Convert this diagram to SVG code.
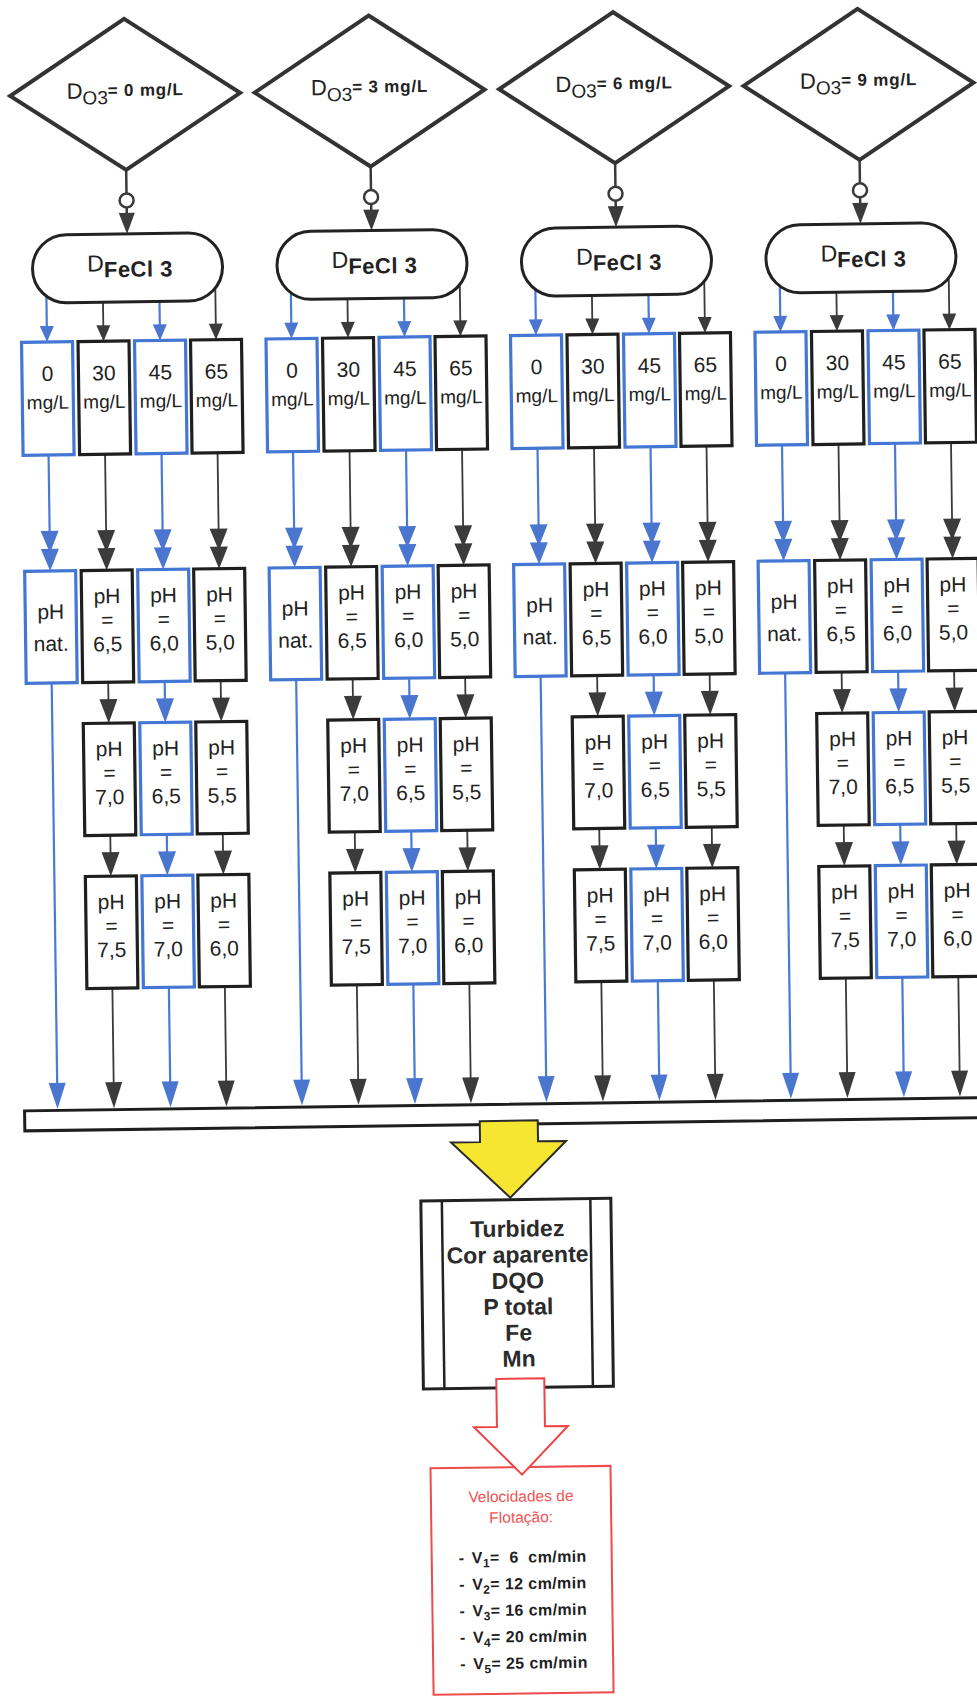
<svg xmlns="http://www.w3.org/2000/svg" width="977" height="1697" viewBox="0 0 977 1697">
<style>
text{font-family:"Liberation Sans",Arial,Helvetica,sans-serif;fill:#222}
.t{text-anchor:middle}
.n{font-size:21px}
.u{font-size:19px}
.p{font-size:21px}
.dia{fill:#fff;stroke:#333;stroke-width:4;stroke-linejoin:miter}
.sta{fill:#fff;stroke:#222;stroke-width:3}
.bk{fill:#fff;stroke:#1f1f1f;stroke-width:3.2}
.bl{fill:#fff;stroke:#4377d3;stroke-width:3.2}
.cb{stroke:#4a7ad4;stroke-width:2.2;fill:none}
.ck{stroke:#3a3a3a;stroke-width:1.8;fill:none}
.co{stroke:#3a3a3a;stroke-width:2.5;fill:none}
.ring{fill:#fff;stroke:#3a3a3a;stroke-width:2.5}
.dt{font-size:22px}
.ds{font-size:19px}
.dv{font-size:17px;font-weight:bold;letter-spacing:0.8px}
.ft{font-size:23px}
.fb{font-size:22px;font-weight:bold;letter-spacing:0.5px}
.res{font-size:23px;font-weight:bold;fill:#2b2b2b}
.red{font-size:15.5px;fill:#ef5353}
.vel{font-size:16px;font-weight:bold;fill:#1f1f1f;letter-spacing:0.4px}
.sub{font-size:12px}
</style>
<defs>
<marker id="s-b" markerUnits="userSpaceOnUse" orient="auto" overflow="visible" markerWidth="20" markerHeight="20"><path d="M-8,-7 L8,0 L-8,7 Z" fill="#4a76d0"/></marker>
<marker id="s-k" markerUnits="userSpaceOnUse" orient="auto" overflow="visible" markerWidth="20" markerHeight="20"><path d="M-8,-7 L8,0 L-8,7 Z" fill="#3b3b3b"/></marker>
<marker id="d-b" markerUnits="userSpaceOnUse" orient="auto" overflow="visible" markerWidth="20" markerHeight="20"><path d="M-32,-9 L-10,0 L-32,9 Z M-14,-9 L8,0 L-14,9 Z" fill="#4a76d0"/></marker>
<marker id="d-k" markerUnits="userSpaceOnUse" orient="auto" overflow="visible" markerWidth="20" markerHeight="20"><path d="M-32,-9 L-10,0 L-32,9 Z M-14,-9 L8,0 L-14,9 Z" fill="#3b3b3b"/></marker>
<marker id="m-b" markerUnits="userSpaceOnUse" orient="auto" overflow="visible" markerWidth="20" markerHeight="20"><path d="M-16,-9 L8,0 L-16,9 Z" fill="#4a76d0"/></marker>
<marker id="m-k" markerUnits="userSpaceOnUse" orient="auto" overflow="visible" markerWidth="20" markerHeight="20"><path d="M-16,-9 L8,0 L-16,9 Z" fill="#3b3b3b"/></marker>
<marker id="l-b" markerUnits="userSpaceOnUse" orient="auto" overflow="visible" markerWidth="20" markerHeight="20"><path d="M-18,-8.5 L8,0 L-18,8.5 Z" fill="#4a76d0"/></marker>
<marker id="l-k" markerUnits="userSpaceOnUse" orient="auto" overflow="visible" markerWidth="20" markerHeight="20"><path d="M-18,-8.5 L8,0 L-18,8.5 Z" fill="#3b3b3b"/></marker>
<marker id="o-k" markerUnits="userSpaceOnUse" orient="auto" overflow="visible" markerWidth="20" markerHeight="20"><path d="M-13,-8 L8,0 L-13,8 Z" fill="#3b3b3b"/></marker>
</defs>
<rect x="0" y="0" width="977" height="1697" fill="#fff"/>
<g transform="rotate(-0.785 488 848)">
<g id="connectors">
<!-- group 0 -->
<line class="co" x1="135.5" y1="165" x2="135.5" y2="188.5"/>
<circle class="ring" cx="135.5" cy="195.5" r="7"/>
<line class="co" x1="135.5" y1="202.5" x2="135.5" y2="221" marker-end="url(#o-k)"/>
<line class="cb" x1="54" y1="280" x2="54" y2="328" marker-end="url(#s-b)"/>
<line class="ck" x1="110.5" y1="280" x2="110.5" y2="328" marker-end="url(#s-k)"/>
<line class="cb" x1="167" y1="280" x2="167" y2="328" marker-end="url(#s-b)"/>
<line class="ck" x1="223" y1="280" x2="223" y2="328" marker-end="url(#s-k)"/>
<line class="cb" x1="54" y1="449" x2="54" y2="557" marker-end="url(#d-b)"/>
<line class="ck" x1="110.5" y1="449" x2="110.5" y2="557" marker-end="url(#d-k)"/>
<line class="cb" x1="167" y1="449" x2="167" y2="557" marker-end="url(#d-b)"/>
<line class="ck" x1="223" y1="449" x2="223" y2="557" marker-end="url(#d-k)"/>
<line class="ck" x1="110.5" y1="677" x2="110.5" y2="710" marker-end="url(#m-k)"/>
<line class="cb" x1="167" y1="677" x2="167" y2="710" marker-end="url(#m-b)"/>
<line class="ck" x1="223" y1="677" x2="223" y2="710" marker-end="url(#m-k)"/>
<line class="ck" x1="110.5" y1="830" x2="110.5" y2="863" marker-end="url(#m-k)"/>
<line class="cb" x1="167" y1="830" x2="167" y2="863" marker-end="url(#m-b)"/>
<line class="ck" x1="223" y1="830" x2="223" y2="863" marker-end="url(#m-k)"/>
<line class="cb" x1="54" y1="677" x2="54" y2="1095" marker-end="url(#l-b)"/>
<line class="ck" x1="110.5" y1="983" x2="110.5" y2="1095" marker-end="url(#l-k)"/>
<line class="cb" x1="167" y1="983" x2="167" y2="1095" marker-end="url(#l-b)"/>
<line class="ck" x1="223" y1="983" x2="223" y2="1095" marker-end="url(#l-k)"/>
<!-- group 1 -->
<line class="co" x1="380" y1="165" x2="380" y2="188.5"/>
<circle class="ring" cx="380" cy="195.5" r="7"/>
<line class="co" x1="380" y1="202.5" x2="380" y2="221" marker-end="url(#o-k)"/>
<line class="cb" x1="298.5" y1="280" x2="298.5" y2="328" marker-end="url(#s-b)"/>
<line class="ck" x1="355" y1="280" x2="355" y2="328" marker-end="url(#s-k)"/>
<line class="cb" x1="411.5" y1="280" x2="411.5" y2="328" marker-end="url(#s-b)"/>
<line class="ck" x1="467.5" y1="280" x2="467.5" y2="328" marker-end="url(#s-k)"/>
<line class="cb" x1="298.5" y1="449" x2="298.5" y2="557" marker-end="url(#d-b)"/>
<line class="ck" x1="355" y1="449" x2="355" y2="557" marker-end="url(#d-k)"/>
<line class="cb" x1="411.5" y1="449" x2="411.5" y2="557" marker-end="url(#d-b)"/>
<line class="ck" x1="467.5" y1="449" x2="467.5" y2="557" marker-end="url(#d-k)"/>
<line class="ck" x1="355" y1="677" x2="355" y2="710" marker-end="url(#m-k)"/>
<line class="cb" x1="411.5" y1="677" x2="411.5" y2="710" marker-end="url(#m-b)"/>
<line class="ck" x1="467.5" y1="677" x2="467.5" y2="710" marker-end="url(#m-k)"/>
<line class="ck" x1="355" y1="830" x2="355" y2="863" marker-end="url(#m-k)"/>
<line class="cb" x1="411.5" y1="830" x2="411.5" y2="863" marker-end="url(#m-b)"/>
<line class="ck" x1="467.5" y1="830" x2="467.5" y2="863" marker-end="url(#m-k)"/>
<line class="cb" x1="298.5" y1="677" x2="298.5" y2="1095" marker-end="url(#l-b)"/>
<line class="ck" x1="355" y1="983" x2="355" y2="1095" marker-end="url(#l-k)"/>
<line class="cb" x1="411.5" y1="983" x2="411.5" y2="1095" marker-end="url(#l-b)"/>
<line class="ck" x1="467.5" y1="983" x2="467.5" y2="1095" marker-end="url(#l-k)"/>
<!-- group 2 -->
<line class="co" x1="624.5" y1="165" x2="624.5" y2="188.5"/>
<circle class="ring" cx="624.5" cy="195.5" r="7"/>
<line class="co" x1="624.5" y1="202.5" x2="624.5" y2="221" marker-end="url(#o-k)"/>
<line class="cb" x1="543" y1="280" x2="543" y2="328" marker-end="url(#s-b)"/>
<line class="ck" x1="599.5" y1="280" x2="599.5" y2="328" marker-end="url(#s-k)"/>
<line class="cb" x1="656" y1="280" x2="656" y2="328" marker-end="url(#s-b)"/>
<line class="ck" x1="712" y1="280" x2="712" y2="328" marker-end="url(#s-k)"/>
<line class="cb" x1="543" y1="449" x2="543" y2="557" marker-end="url(#d-b)"/>
<line class="ck" x1="599.5" y1="449" x2="599.5" y2="557" marker-end="url(#d-k)"/>
<line class="cb" x1="656" y1="449" x2="656" y2="557" marker-end="url(#d-b)"/>
<line class="ck" x1="712" y1="449" x2="712" y2="557" marker-end="url(#d-k)"/>
<line class="ck" x1="599.5" y1="677" x2="599.5" y2="710" marker-end="url(#m-k)"/>
<line class="cb" x1="656" y1="677" x2="656" y2="710" marker-end="url(#m-b)"/>
<line class="ck" x1="712" y1="677" x2="712" y2="710" marker-end="url(#m-k)"/>
<line class="ck" x1="599.5" y1="830" x2="599.5" y2="863" marker-end="url(#m-k)"/>
<line class="cb" x1="656" y1="830" x2="656" y2="863" marker-end="url(#m-b)"/>
<line class="ck" x1="712" y1="830" x2="712" y2="863" marker-end="url(#m-k)"/>
<line class="cb" x1="543" y1="677" x2="543" y2="1095" marker-end="url(#l-b)"/>
<line class="ck" x1="599.5" y1="983" x2="599.5" y2="1095" marker-end="url(#l-k)"/>
<line class="cb" x1="656" y1="983" x2="656" y2="1095" marker-end="url(#l-b)"/>
<line class="ck" x1="712" y1="983" x2="712" y2="1095" marker-end="url(#l-k)"/>
<!-- group 3 -->
<line class="co" x1="869" y1="165" x2="869" y2="188.5"/>
<circle class="ring" cx="869" cy="195.5" r="7"/>
<line class="co" x1="869" y1="202.5" x2="869" y2="221" marker-end="url(#o-k)"/>
<line class="cb" x1="787.5" y1="280" x2="787.5" y2="328" marker-end="url(#s-b)"/>
<line class="ck" x1="844" y1="280" x2="844" y2="328" marker-end="url(#s-k)"/>
<line class="cb" x1="900.5" y1="280" x2="900.5" y2="328" marker-end="url(#s-b)"/>
<line class="ck" x1="956.5" y1="280" x2="956.5" y2="328" marker-end="url(#s-k)"/>
<line class="cb" x1="787.5" y1="449" x2="787.5" y2="557" marker-end="url(#d-b)"/>
<line class="ck" x1="844" y1="449" x2="844" y2="557" marker-end="url(#d-k)"/>
<line class="cb" x1="900.5" y1="449" x2="900.5" y2="557" marker-end="url(#d-b)"/>
<line class="ck" x1="956.5" y1="449" x2="956.5" y2="557" marker-end="url(#d-k)"/>
<line class="ck" x1="844" y1="677" x2="844" y2="710" marker-end="url(#m-k)"/>
<line class="cb" x1="900.5" y1="677" x2="900.5" y2="710" marker-end="url(#m-b)"/>
<line class="ck" x1="956.5" y1="677" x2="956.5" y2="710" marker-end="url(#m-k)"/>
<line class="ck" x1="844" y1="830" x2="844" y2="863" marker-end="url(#m-k)"/>
<line class="cb" x1="900.5" y1="830" x2="900.5" y2="863" marker-end="url(#m-b)"/>
<line class="ck" x1="956.5" y1="830" x2="956.5" y2="863" marker-end="url(#m-k)"/>
<line class="cb" x1="787.5" y1="677" x2="787.5" y2="1095" marker-end="url(#l-b)"/>
<line class="ck" x1="844" y1="983" x2="844" y2="1095" marker-end="url(#l-k)"/>
<line class="cb" x1="900.5" y1="983" x2="900.5" y2="1095" marker-end="url(#l-b)"/>
<line class="ck" x1="956.5" y1="983" x2="956.5" y2="1095" marker-end="url(#l-k)"/>
</g>

<!-- ozone dose diamonds -->
<g id="o3-0"><polygon class="dia" points="135.5,14 250.5,89.5 135.5,165 20.5,89.5"/><text class="t" x="135.5" y="93"><tspan class="dt">D</tspan><tspan class="ds" dy="6">O3</tspan><tspan class="dv" dy="-8">= 0 mg/L</tspan></text></g>
<g id="o3-1"><polygon class="dia" points="380,14 495,89.5 380,165 265,89.5"/><text class="t" x="380" y="93"><tspan class="dt">D</tspan><tspan class="ds" dy="6">O3</tspan><tspan class="dv" dy="-8">= 3 mg/L</tspan></text></g>
<g id="o3-2"><polygon class="dia" points="624.5,14 739.5,89.5 624.5,165 509.5,89.5"/><text class="t" x="624.5" y="93"><tspan class="dt">D</tspan><tspan class="ds" dy="6">O3</tspan><tspan class="dv" dy="-8">= 6 mg/L</tspan></text></g>
<g id="o3-3"><polygon class="dia" points="869,14 984,89.5 869,165 754,89.5"/><text class="t" x="869" y="93"><tspan class="dt">D</tspan><tspan class="ds" dy="6">O3</tspan><tspan class="dv" dy="-8">= 9 mg/L</tspan></text></g>

<!-- FeCl3 dose terminators -->
<g id="fe-0"><rect class="sta" x="40.5" y="229" width="190" height="68" rx="34"/><text class="t" x="138" y="266"><tspan class="ft">D</tspan><tspan class="fb" dy="6">FeCl 3</tspan></text></g>
<g id="fe-1"><rect class="sta" x="285" y="229" width="190" height="68" rx="34"/><text class="t" x="382.5" y="266"><tspan class="ft">D</tspan><tspan class="fb" dy="6">FeCl 3</tspan></text></g>
<g id="fe-2"><rect class="sta" x="529.5" y="229" width="190" height="68" rx="34"/><text class="t" x="627" y="266"><tspan class="ft">D</tspan><tspan class="fb" dy="6">FeCl 3</tspan></text></g>
<g id="fe-3"><rect class="sta" x="774" y="229" width="190" height="68" rx="34"/><text class="t" x="871.5" y="266"><tspan class="ft">D</tspan><tspan class="fb" dy="6">FeCl 3</tspan></text></g>

<!-- group 0 boxes -->
<g id="dose-0-0"><rect class="bl" x="28.5" y="336" width="51" height="113"/><text class="t n" x="54" y="375">0</text><text class="t u" x="54" y="403">mg/L</text></g>
<g id="dose-0-1"><rect class="bk" x="85" y="336" width="51" height="113"/><text class="t n" x="110.5" y="375">30</text><text class="t u" x="110.5" y="403">mg/L</text></g>
<g id="dose-0-2"><rect class="bl" x="141.5" y="336" width="51" height="113"/><text class="t n" x="167" y="375">45</text><text class="t u" x="167" y="403">mg/L</text></g>
<g id="dose-0-3"><rect class="bk" x="197.5" y="336" width="51" height="113"/><text class="t n" x="223" y="375">65</text><text class="t u" x="223" y="403">mg/L</text></g>
<g id="ph-0-0"><rect class="bl" x="28.5" y="565" width="51" height="112"/><text class="t p" x="54" y="613">pH</text><text class="t p" x="54" y="645">nat.</text></g>
<g id="ph-0-1a"><rect class="bk" x="85" y="565" width="51" height="112"/><text class="t p" x="110.5" y="598">pH</text><text class="t p" x="110.5" y="622">=</text><text class="t p" x="110.5" y="646">6,5</text></g>
<g id="ph-0-2a"><rect class="bl" x="141.5" y="565" width="51" height="112"/><text class="t p" x="167" y="598">pH</text><text class="t p" x="167" y="622">=</text><text class="t p" x="167" y="646">6,0</text></g>
<g id="ph-0-3a"><rect class="bk" x="197.5" y="565" width="51" height="112"/><text class="t p" x="223" y="598">pH</text><text class="t p" x="223" y="622">=</text><text class="t p" x="223" y="646">5,0</text></g>
<g id="ph-0-1b"><rect class="bk" x="85" y="718" width="51" height="112"/><text class="t p" x="110.5" y="751">pH</text><text class="t p" x="110.5" y="775">=</text><text class="t p" x="110.5" y="799">7,0</text></g>
<g id="ph-0-2b"><rect class="bl" x="141.5" y="718" width="51" height="112"/><text class="t p" x="167" y="751">pH</text><text class="t p" x="167" y="775">=</text><text class="t p" x="167" y="799">6,5</text></g>
<g id="ph-0-3b"><rect class="bk" x="197.5" y="718" width="51" height="112"/><text class="t p" x="223" y="751">pH</text><text class="t p" x="223" y="775">=</text><text class="t p" x="223" y="799">5,5</text></g>
<g id="ph-0-1c"><rect class="bk" x="85" y="871" width="51" height="112"/><text class="t p" x="110.5" y="904">pH</text><text class="t p" x="110.5" y="928">=</text><text class="t p" x="110.5" y="952">7,5</text></g>
<g id="ph-0-2c"><rect class="bl" x="141.5" y="871" width="51" height="112"/><text class="t p" x="167" y="904">pH</text><text class="t p" x="167" y="928">=</text><text class="t p" x="167" y="952">7,0</text></g>
<g id="ph-0-3c"><rect class="bk" x="197.5" y="871" width="51" height="112"/><text class="t p" x="223" y="904">pH</text><text class="t p" x="223" y="928">=</text><text class="t p" x="223" y="952">6,0</text></g>

<!-- group 1 boxes -->
<g id="dose-1-0"><rect class="bl" x="273" y="336" width="51" height="113"/><text class="t n" x="298.5" y="375">0</text><text class="t u" x="298.5" y="403">mg/L</text></g>
<g id="dose-1-1"><rect class="bk" x="329.5" y="336" width="51" height="113"/><text class="t n" x="355" y="375">30</text><text class="t u" x="355" y="403">mg/L</text></g>
<g id="dose-1-2"><rect class="bl" x="386" y="336" width="51" height="113"/><text class="t n" x="411.5" y="375">45</text><text class="t u" x="411.5" y="403">mg/L</text></g>
<g id="dose-1-3"><rect class="bk" x="442" y="336" width="51" height="113"/><text class="t n" x="467.5" y="375">65</text><text class="t u" x="467.5" y="403">mg/L</text></g>
<g id="ph-1-0"><rect class="bl" x="273" y="565" width="51" height="112"/><text class="t p" x="298.5" y="613">pH</text><text class="t p" x="298.5" y="645">nat.</text></g>
<g id="ph-1-1a"><rect class="bk" x="329.5" y="565" width="51" height="112"/><text class="t p" x="355" y="598">pH</text><text class="t p" x="355" y="622">=</text><text class="t p" x="355" y="646">6,5</text></g>
<g id="ph-1-2a"><rect class="bl" x="386" y="565" width="51" height="112"/><text class="t p" x="411.5" y="598">pH</text><text class="t p" x="411.5" y="622">=</text><text class="t p" x="411.5" y="646">6,0</text></g>
<g id="ph-1-3a"><rect class="bk" x="442" y="565" width="51" height="112"/><text class="t p" x="467.5" y="598">pH</text><text class="t p" x="467.5" y="622">=</text><text class="t p" x="467.5" y="646">5,0</text></g>
<g id="ph-1-1b"><rect class="bk" x="329.5" y="718" width="51" height="112"/><text class="t p" x="355" y="751">pH</text><text class="t p" x="355" y="775">=</text><text class="t p" x="355" y="799">7,0</text></g>
<g id="ph-1-2b"><rect class="bl" x="386" y="718" width="51" height="112"/><text class="t p" x="411.5" y="751">pH</text><text class="t p" x="411.5" y="775">=</text><text class="t p" x="411.5" y="799">6,5</text></g>
<g id="ph-1-3b"><rect class="bk" x="442" y="718" width="51" height="112"/><text class="t p" x="467.5" y="751">pH</text><text class="t p" x="467.5" y="775">=</text><text class="t p" x="467.5" y="799">5,5</text></g>
<g id="ph-1-1c"><rect class="bk" x="329.5" y="871" width="51" height="112"/><text class="t p" x="355" y="904">pH</text><text class="t p" x="355" y="928">=</text><text class="t p" x="355" y="952">7,5</text></g>
<g id="ph-1-2c"><rect class="bl" x="386" y="871" width="51" height="112"/><text class="t p" x="411.5" y="904">pH</text><text class="t p" x="411.5" y="928">=</text><text class="t p" x="411.5" y="952">7,0</text></g>
<g id="ph-1-3c"><rect class="bk" x="442" y="871" width="51" height="112"/><text class="t p" x="467.5" y="904">pH</text><text class="t p" x="467.5" y="928">=</text><text class="t p" x="467.5" y="952">6,0</text></g>

<!-- group 2 boxes -->
<g id="dose-2-0"><rect class="bl" x="517.5" y="336" width="51" height="113"/><text class="t n" x="543" y="375">0</text><text class="t u" x="543" y="403">mg/L</text></g>
<g id="dose-2-1"><rect class="bk" x="574" y="336" width="51" height="113"/><text class="t n" x="599.5" y="375">30</text><text class="t u" x="599.5" y="403">mg/L</text></g>
<g id="dose-2-2"><rect class="bl" x="630.5" y="336" width="51" height="113"/><text class="t n" x="656" y="375">45</text><text class="t u" x="656" y="403">mg/L</text></g>
<g id="dose-2-3"><rect class="bk" x="686.5" y="336" width="51" height="113"/><text class="t n" x="712" y="375">65</text><text class="t u" x="712" y="403">mg/L</text></g>
<g id="ph-2-0"><rect class="bl" x="517.5" y="565" width="51" height="112"/><text class="t p" x="543" y="613">pH</text><text class="t p" x="543" y="645">nat.</text></g>
<g id="ph-2-1a"><rect class="bk" x="574" y="565" width="51" height="112"/><text class="t p" x="599.5" y="598">pH</text><text class="t p" x="599.5" y="622">=</text><text class="t p" x="599.5" y="646">6,5</text></g>
<g id="ph-2-2a"><rect class="bl" x="630.5" y="565" width="51" height="112"/><text class="t p" x="656" y="598">pH</text><text class="t p" x="656" y="622">=</text><text class="t p" x="656" y="646">6,0</text></g>
<g id="ph-2-3a"><rect class="bk" x="686.5" y="565" width="51" height="112"/><text class="t p" x="712" y="598">pH</text><text class="t p" x="712" y="622">=</text><text class="t p" x="712" y="646">5,0</text></g>
<g id="ph-2-1b"><rect class="bk" x="574" y="718" width="51" height="112"/><text class="t p" x="599.5" y="751">pH</text><text class="t p" x="599.5" y="775">=</text><text class="t p" x="599.5" y="799">7,0</text></g>
<g id="ph-2-2b"><rect class="bl" x="630.5" y="718" width="51" height="112"/><text class="t p" x="656" y="751">pH</text><text class="t p" x="656" y="775">=</text><text class="t p" x="656" y="799">6,5</text></g>
<g id="ph-2-3b"><rect class="bk" x="686.5" y="718" width="51" height="112"/><text class="t p" x="712" y="751">pH</text><text class="t p" x="712" y="775">=</text><text class="t p" x="712" y="799">5,5</text></g>
<g id="ph-2-1c"><rect class="bk" x="574" y="871" width="51" height="112"/><text class="t p" x="599.5" y="904">pH</text><text class="t p" x="599.5" y="928">=</text><text class="t p" x="599.5" y="952">7,5</text></g>
<g id="ph-2-2c"><rect class="bl" x="630.5" y="871" width="51" height="112"/><text class="t p" x="656" y="904">pH</text><text class="t p" x="656" y="928">=</text><text class="t p" x="656" y="952">7,0</text></g>
<g id="ph-2-3c"><rect class="bk" x="686.5" y="871" width="51" height="112"/><text class="t p" x="712" y="904">pH</text><text class="t p" x="712" y="928">=</text><text class="t p" x="712" y="952">6,0</text></g>

<!-- group 3 boxes -->
<g id="dose-3-0"><rect class="bl" x="762" y="336" width="51" height="113"/><text class="t n" x="787.5" y="375">0</text><text class="t u" x="787.5" y="403">mg/L</text></g>
<g id="dose-3-1"><rect class="bk" x="818.5" y="336" width="51" height="113"/><text class="t n" x="844" y="375">30</text><text class="t u" x="844" y="403">mg/L</text></g>
<g id="dose-3-2"><rect class="bl" x="875" y="336" width="51" height="113"/><text class="t n" x="900.5" y="375">45</text><text class="t u" x="900.5" y="403">mg/L</text></g>
<g id="dose-3-3"><rect class="bk" x="931" y="336" width="51" height="113"/><text class="t n" x="956.5" y="375">65</text><text class="t u" x="956.5" y="403">mg/L</text></g>
<g id="ph-3-0"><rect class="bl" x="762" y="565" width="51" height="112"/><text class="t p" x="787.5" y="613">pH</text><text class="t p" x="787.5" y="645">nat.</text></g>
<g id="ph-3-1a"><rect class="bk" x="818.5" y="565" width="51" height="112"/><text class="t p" x="844" y="598">pH</text><text class="t p" x="844" y="622">=</text><text class="t p" x="844" y="646">6,5</text></g>
<g id="ph-3-2a"><rect class="bl" x="875" y="565" width="51" height="112"/><text class="t p" x="900.5" y="598">pH</text><text class="t p" x="900.5" y="622">=</text><text class="t p" x="900.5" y="646">6,0</text></g>
<g id="ph-3-3a"><rect class="bk" x="931" y="565" width="51" height="112"/><text class="t p" x="956.5" y="598">pH</text><text class="t p" x="956.5" y="622">=</text><text class="t p" x="956.5" y="646">5,0</text></g>
<g id="ph-3-1b"><rect class="bk" x="818.5" y="718" width="51" height="112"/><text class="t p" x="844" y="751">pH</text><text class="t p" x="844" y="775">=</text><text class="t p" x="844" y="799">7,0</text></g>
<g id="ph-3-2b"><rect class="bl" x="875" y="718" width="51" height="112"/><text class="t p" x="900.5" y="751">pH</text><text class="t p" x="900.5" y="775">=</text><text class="t p" x="900.5" y="799">6,5</text></g>
<g id="ph-3-3b"><rect class="bk" x="931" y="718" width="51" height="112"/><text class="t p" x="956.5" y="751">pH</text><text class="t p" x="956.5" y="775">=</text><text class="t p" x="956.5" y="799">5,5</text></g>
<g id="ph-3-1c"><rect class="bk" x="818.5" y="871" width="51" height="112"/><text class="t p" x="844" y="904">pH</text><text class="t p" x="844" y="928">=</text><text class="t p" x="844" y="952">7,5</text></g>
<g id="ph-3-2c"><rect class="bl" x="875" y="871" width="51" height="112"/><text class="t p" x="900.5" y="904">pH</text><text class="t p" x="900.5" y="928">=</text><text class="t p" x="900.5" y="952">7,0</text></g>
<g id="ph-3-3c"><rect class="bk" x="931" y="871" width="51" height="112"/><text class="t p" x="956.5" y="904">pH</text><text class="t p" x="956.5" y="928">=</text><text class="t p" x="956.5" y="952">6,0</text></g>

<!-- collector bar -->
<g id="collector"><rect x="21" y="1104.5" width="990" height="20" fill="#fff" stroke="#1e1e1e" stroke-width="3"/></g>

<!-- analyses box -->
<g id="analyses">
<rect x="416" y="1200" width="190" height="188" fill="#fff" stroke="#222" stroke-width="3"/>
<line x1="437" y1="1200" x2="437" y2="1388" stroke="#222" stroke-width="2.5"/>
<line x1="585.5" y1="1200" x2="585.5" y2="1388" stroke="#222" stroke-width="2.5"/>
<text class="t res" x="512" y="1237">Turbidez</text>
<text class="t res" x="512" y="1263">Cor aparente</text>
<text class="t res" x="512" y="1289">DQO</text>
<text class="t res" x="512" y="1315">P total</text>
<text class="t res" x="512" y="1341">Fe</text>
<text class="t res" x="512" y="1367">Mn</text>
</g>

<!-- flotation velocities box -->
<g id="velocities">
<rect x="422" y="1467.5" width="180" height="226.5" fill="#fff" stroke="#ee4b4b" stroke-width="2"/>
<text class="t red" x="512" y="1502">Velocidades de</text>
<text class="t red" x="512" y="1523">Flotação:</text>
<text class="vel" x="449" y="1563">-<tspan x="462">V</tspan><tspan class="sub" dy="4">1</tspan><tspan dy="-4" xml:space="preserve">=  6  cm/min</tspan></text>
<text class="vel" x="449" y="1589.5">-<tspan x="462">V</tspan><tspan class="sub" dy="4">2</tspan><tspan dy="-4">= 12 cm/min</tspan></text>
<text class="vel" x="449" y="1616">-<tspan x="462">V</tspan><tspan class="sub" dy="4">3</tspan><tspan dy="-4">= 16 cm/min</tspan></text>
<text class="vel" x="449" y="1642.5">-<tspan x="462">V</tspan><tspan class="sub" dy="4">4</tspan><tspan dy="-4">= 20 cm/min</tspan></text>
<text class="vel" x="449" y="1669">-<tspan x="462">V</tspan><tspan class="sub" dy="4">5</tspan><tspan dy="-4">= 25 cm/min</tspan></text>
</g>

<!-- block arrows -->
<g id="block-arrows">
<polygon points="476,1121 534,1121 534,1142 562,1142 505.5,1198 447,1142 476,1142" fill="#f7e631" stroke="#2a2a2a" stroke-width="2"/>
<polygon points="489,1379 537,1379 537,1427 560,1427 513.5,1475 466,1427 489,1427" fill="#fff" stroke="#ee4444" stroke-width="2"/>
</g>
</g>
</svg>
